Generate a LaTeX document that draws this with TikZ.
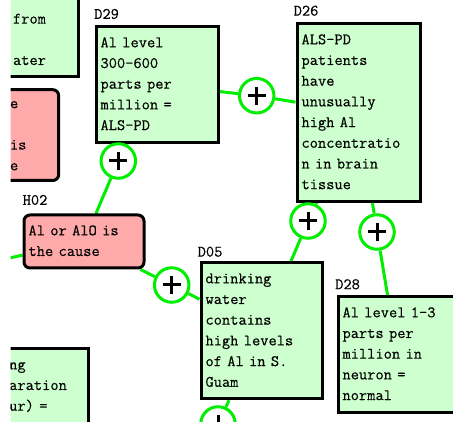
\documentclass[tikz,border=0pt]{standalone}
\usepackage{fontspec}
\newfontfamily\cour[FakeBold=0.3]{Latin Modern Mono}
\usetikzlibrary{backgrounds}
\definecolor{boxgreen}{RGB}{206,255,206}
\definecolor{boxred}{RGB}{255,170,170}
\definecolor{linkgreen}{RGB}{0,238,0}
\begin{document}
\begin{tikzpicture}[x=1pt,y=-1pt,
  every node/.style={font=\cour\fontsize{16}{20.7}\selectfont},
  box/.style={draw=black, line width=3pt, fill=boxgreen, align=left,
    inner xsep=4.5pt, inner ysep=5.8pt,
    execute at begin node=\strut, execute at end node=\strut},
  hyp/.style={box, fill=boxred, rounded corners=6pt},
  idl/.style={anchor=west, inner sep=0pt},
  plus/.style={circle, draw=linkgreen, line width=3pt, fill=white,
    minimum size=34.5pt, inner sep=0pt,
    path picture={\draw[black,line width=3pt]
      ([xshift=-9pt]path picture bounding box.center) -- ([xshift=9pt]path picture bounding box.center)
      ([yshift=-9pt]path picture bounding box.center) -- ([yshift=9pt]path picture bounding box.center);}},
  link/.style={draw=linkgreen, line width=3pt}]
\useasboundingbox (0,0) rectangle (453,422);
\begin{scope}
\clip (10.5,0) rectangle (453,422);
% partial boxes at the edges
\node[box, anchor=south east, text width=100pt] (tl) at (79.5,78.5)
  {\strut\\ \strut\\ \hspace*{39.5pt}from\\ \strut\\ \hspace*{39.5pt}ater};
\node[hyp, anchor=north east, text width=80pt, inner ysep=4pt] (tr) at (60.2,88.2)
  {\hspace*{35.8pt}e\\ \strut\\ \hspace*{35.8pt}is\\ \hspace*{35.8pt}e};
\node[box, anchor=north east, text width=80pt] (bl) at (90.2,347.5)
  {\hspace*{5pt}ng\\ \hspace*{5pt}aration\\ \hspace*{5pt}ur) =\\ \strut};
% full boxes
\node[box, anchor=north west, text width=113pt] (d29) at (94.5,25.5)
  {Al level\\300-600\\parts per\\million =\\ALS-PD};
\node[box, anchor=north west, text width=114pt] (d26) at (295.5,22.5)
  {ALS-PD\\patients\\have\\unusually\\high Al\\concentratio\\n in brain\\tissue};
\node[hyp, anchor=north west, text width=111pt] (h02) at (22.5,213.5)
  {Al or AlO is\\the cause};
\node[box, anchor=north west, text width=112pt] (d05) at (199.5,261.5)
  {drinking\\water\\contains\\high levels\\of Al in S.\\Guam};
\node[box, anchor=north west, text width=110pt] (d28) at (336.5,295.5)
  {Al level 1-3\\parts per\\million in\\neuron =\\normal};
% labels
\node[idl] (d29l) at (94,14) {D29};
\node[idl] (d26l) at (293.5,10.7) {D26};
\node[idl] (h02l) at (22.5,200) {H02};
\node[idl] (d05l) at (197.5,251.7) {D05};
\node[idl] (d28l) at (335,284.3) {D28};
% plus junctions
\node[plus] (p1) at (256.7,95.7) {};
\node[plus] (p2) at (118.3,161) {};
\node[plus] (p3) at (171.7,285) {};
\node[plus] (p4) at (308,221) {};
\node[plus] (p5) at (377,232) {};
\node[plus] (p6) at (218,424) {};
\coordinate (hl) at (-40,269);
\end{scope}
\begin{pgfonlayer}{background}
\fill[white] (0,0) rectangle (453,422);
\clip (10.5,0) rectangle (453,422);
\draw[link] (d29) -- (p1);
\draw[link] (p1) -- (d26);
\draw[link] (d29) -- (p2);
\draw[link] (p2) -- (h02);
\draw[link] (h02) -- (p3);
\draw[link] (p3) -- (d05);
\draw[link] (d05) -- (p4);
\draw[link] (p4) -- (d26);
\draw[link] (d26) -- (p5);
\draw[link] (p5) -- (d28);
\draw[link] (d05) -- (p6);
\draw[link] (h02) -- (hl);
\end{pgfonlayer}
\end{tikzpicture}
\end{document}
